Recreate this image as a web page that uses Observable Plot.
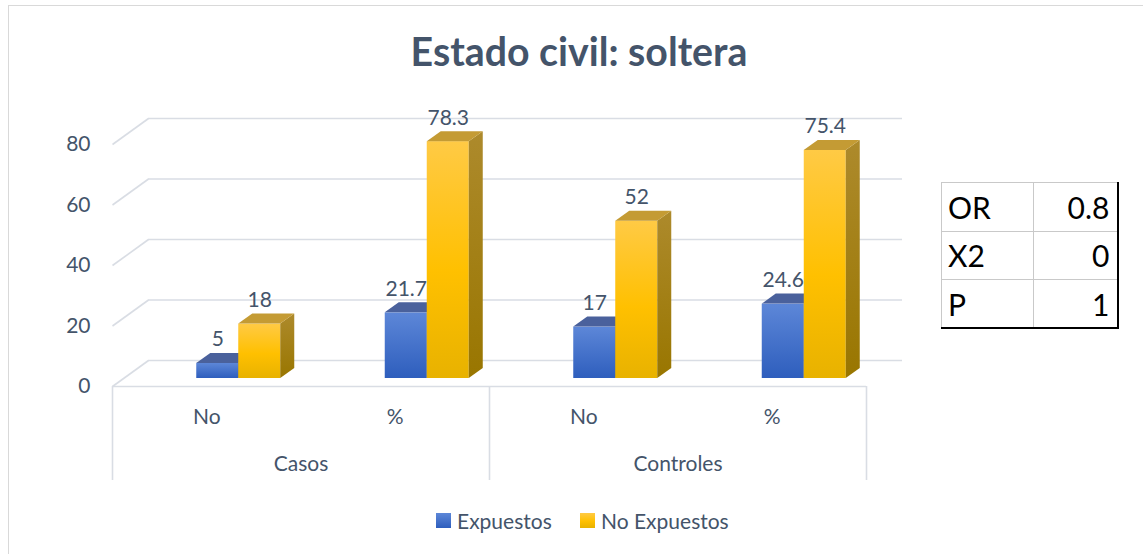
<!DOCTYPE html>
<html>
<head>
<meta charset="utf-8">
<script src="https://cdn.jsdelivr.net/npm/d3@7"></script>
<script src="https://cdn.jsdelivr.net/npm/@observablehq/plot@0.6"></script>
<style>
  body { margin: 0; background: #fff; font-family: Lato, "Open Sans", sans-serif; }
  #wrap { position: relative; width: 1143px; height: 554px; overflow: hidden; background: #fff; }
  #frame { position: absolute; left: 8px; top: 5px; width: 2000px; height: 2000px; border: 1.5px solid #d9d9d9; box-sizing: border-box; }
  #chart { position: absolute; left: 0; top: 0; }
  #chart svg { background: transparent; }
  .leg { position: absolute; top: 508px; height: 24px; display: flex; align-items: center; font-size: 21px; color: #44546a; white-space: nowrap; }
  .sw { width: 15px; height: 15px; margin-right: 6px; }
  #stats { position: absolute; left: 941px; top: 182px; border-collapse: collapse; font-size: 30px; color: #000;
           border-right: 2.5px solid #000; border-bottom: 2.5px solid #000; }
  #stats td { border: 1.5px solid #c9c9c9; height: 48.5px; padding: 0 6px; line-height: 1; box-sizing: border-box; }
  #stats td.k { width: 92px; text-align: left; }
  #stats td.v { width: 84px; text-align: right; padding-right: 7px; }
</style>
</head>
<body>
<div id="wrap">
  <div id="frame"></div>
  <div id="chart"></div>
</div>
<script>
// ---- data ----
const title = "Estado civil: soltera";
const categories = ["No", "%", "No", "%"];
const groups = ["Casos", "Controles"];
const seriesNames = ["Expuestos", "No Expuestos"];
const expuestos = [5, 21.7, 17, 24.6];
const noExpuestos = [18, 78.3, 52, 75.4];
const yTicks = [0, 20, 40, 60, 80];
const statLabels = ["OR", "X2", "P"];
const statValues = ["0.8", "0", "1"];

// ---- geometry (pixels) ----
const W = 1143, H = 554;
const X0 = 112, X1 = 866, Y0 = 386, Ytop = 144;
const yMax = 80;
const kx = (X1 - X0) / categories.length;
const ky = (Y0 - Ytop) / yMax;
const px2x = p => p / kx, px2y = p => p / ky;

const wallDX = px2x(36), wallDY = px2y(26);
const barShift = px2x(32), barW = px2x(42);
const depthX = px2x(14), depthY = px2y(10);
const barLift = -8;

const bars = [];
categories.forEach((c, i) => {
  const center = i + 0.5 + barShift;
  bars.push({id: "e" + i, s: 0, value: expuestos[i], x1: center - barW, x2: center});
  bars.push({id: "n" + i, s: 1, value: noExpuestos[i], x1: center, x2: center + barW});
});
const tops = bars.flatMap(b => [
  {id: b.id, s: b.s, y: b.value, x1: b.x1, x2: b.x2},
  {id: b.id, s: b.s, y: b.value + depthY, x1: b.x1 + depthX, x2: b.x2 + depthX}
]);
const sides = bars.flatMap(b => [
  {id: b.id, s: b.s, x: b.x2, y1: 0, y2: b.value},
  {id: b.id, s: b.s, x: b.x2 + depthX, y1: depthY, y2: b.value + depthY}
]);

const frontFill = ["url(#gBlueFront)", "url(#gGoldFront)"];
const topFill = ["#4a619c", "#c49b34"];
const sideFill = ["url(#gBlueSide)", "url(#gGoldSide)"];

const textColor = "#44546a";
const gridColor = "#d9dde4";

// title font size to match reference width
const ctx = document.createElement("canvas").getContext("2d");
ctx.font = "bold 40px Lato";
const titleFs = 40 * 337 / ctx.measureText(title).width;

function defsMark() {
  const defs = d3.create("svg:defs");
  const grads = [
    ["gBlueFront", [[0, "#5d87d8"], [1, "#2e5ebd"]]],
    ["gGoldFront", [[0, "#ffca45"], [0.55, "#ffc000"], [1, "#e8b200"]]],
    ["gBlueSide", [[0, "#3b5a9a"], [1, "#2a4680"]]],
    ["gGoldSide", [[0, "#ad8a2c"], [1, "#997600"]]]
  ];
  for (const [id, stops] of grads) {
    const g = defs.append("linearGradient").attr("id", id)
      .attr("x1", 0).attr("y1", 0).attr("x2", 0).attr("y2", 1);
    for (const [o, c] of stops) g.append("stop").attr("offset", o).attr("stop-color", c);
  }
  return defs.node();
}

const barMarks = [0, 1].flatMap(s => [
  Plot.rect(bars.filter(b => b.s === s), {x1: "x1", x2: "x2", y1: 0, y2: "value", dy: barLift, fill: frontFill[s]}),
  Plot.areaY(sides.filter(d => d.s === s), {x: "x", y1: "y1", y2: "y2", z: "id", dy: barLift, fill: sideFill[s]}),
  Plot.areaX(tops.filter(d => d.s === s), {y: "y", x1: "x1", x2: "x2", z: "id", dy: barLift, fill: topFill[s]})
]);

const chart = Plot.plot({
  width: W, height: H, margin: 0,
  x: {domain: [0, categories.length], range: [X0, X1], axis: null},
  y: {domain: [0, yMax], range: [Y0, Ytop], axis: null},
  style: {fontFamily: "Lato, 'Open Sans', sans-serif", background: "transparent", overflow: "visible"},
  marks: [
    defsMark,
    // back wall gridlines
    Plot.ruleY(yTicks, {y: d => d + wallDY, x1: wallDX, x2: categories.length + wallDX, stroke: gridColor, strokeWidth: 1.6}),
    // side wall diagonals
    Plot.link(yTicks, {x1: 0, y1: d => d, x2: wallDX, y2: d => d + wallDY, stroke: gridColor, strokeWidth: 1.6}),
    // floor front edge
    Plot.ruleY([0], {x1: 0, x2: categories.length, stroke: gridColor, strokeWidth: 1.6}),
    // category dividers
    Plot.ruleX([0, 2, 4], {y1: 0, y2: -px2y(94), stroke: gridColor, strokeWidth: 1.6}),
    // y tick labels
    Plot.text(yTicks, {x: 0, y: d => d, text: d => String(d), textAnchor: "end", dx: -22, fontSize: 21, fill: textColor}),
    // category labels
    Plot.text(categories, {x: (d, i) => i + 0.5, y: 0, text: d => d, dy: 31, fontSize: 21, fill: textColor}),
    Plot.text(groups, {x: (d, i) => i * 2 + 1, y: 0, text: d => d, dy: 78, fontSize: 21, fill: textColor}),
    ...barMarks,
    // data labels
    Plot.text(bars, {x: d => (d.x1 + d.x2) / 2, y: "value", text: d => String(d.value), dy: barLift - 17, lineAnchor: "bottom", fontSize: 21, fill: textColor}),
    // title
    Plot.text([title], {frameAnchor: "top", dx: 7, dy: 65, lineAnchor: "bottom", text: d => d, fontSize: titleFs, fontWeight: "bold", fill: textColor})
  ]
});
document.getElementById("chart").appendChild(chart);

// legend
const wrap = document.getElementById("wrap");
const legLeft = [436, 580];
const swatch = ["linear-gradient(#5d87d8, #2e5ebd)", "linear-gradient(#ffca45, #ffc000 55%, #e8b200)"];
seriesNames.forEach((n, i) => {
  const d = document.createElement("div");
  d.className = "leg";
  d.style.left = legLeft[i] + "px";
  d.innerHTML = `<span class="sw" style="background:${swatch[i]}"></span><span>${n}</span>`;
  wrap.appendChild(d);
});

// stats table
const t = document.createElement("table");
t.id = "stats";
statLabels.forEach((k, i) => {
  const tr = t.insertRow();
  const a = tr.insertCell(); a.className = "k"; a.textContent = k;
  const b = tr.insertCell(); b.className = "v"; b.textContent = statValues[i];
});
wrap.appendChild(t);
</script>
</body>
</html>
